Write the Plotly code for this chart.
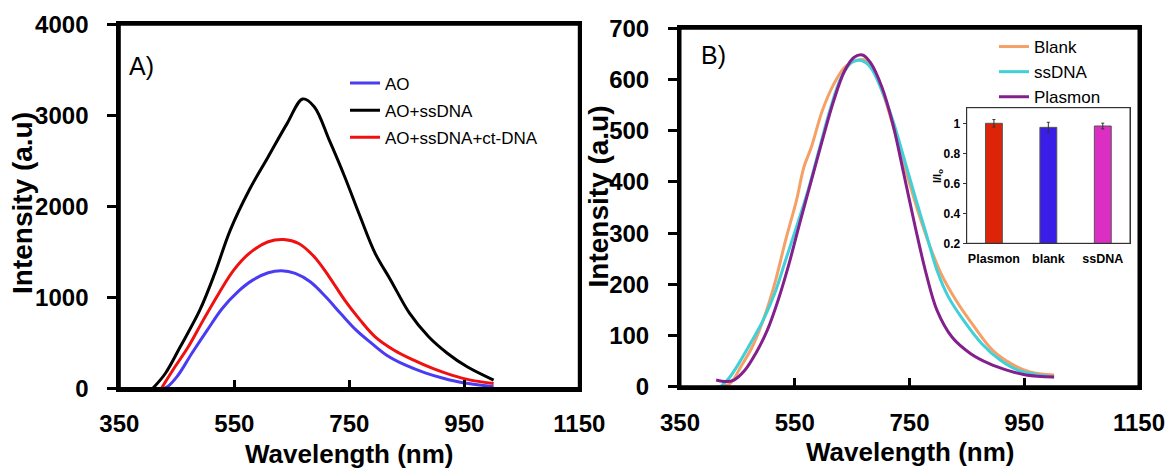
import plotly.graph_objects as go

W, H = 1168, 468
FONT = "Liberation Sans, Arial, sans-serif"

# ---------- Panel A data ----------
ao_x = [400, 430, 450, 476, 503, 529, 556, 582, 609, 632, 656, 682, 709, 735, 762, 789, 815, 848, 882, 915, 948, 1001]
ao_y = [0, 7, 128, 385, 641, 879, 1062, 1190, 1271, 1293, 1264, 1172, 1007, 824, 641, 495, 366, 256, 172, 110, 62, 18]

ss_x = [408, 430, 456, 490, 516, 543, 576, 609, 642, 669, 689, 715, 742, 769, 795, 822, 855, 888, 921, 955, 1001]
ss_y = [0, 165, 458, 860, 1264, 1740, 2180, 2546, 2912, 3180, 3095, 2730, 2326, 1886, 1484, 1190, 824, 568, 385, 238, 92]

ct_x = [423, 443, 470, 496, 523, 549, 576, 609, 636, 662, 689, 715, 742, 769, 795, 828, 862, 895, 928, 961, 1001]
ct_y = [0, 201, 458, 751, 1044, 1300, 1484, 1612, 1637, 1593, 1447, 1227, 971, 751, 568, 421, 311, 220, 147, 92, 55]

# ---------- Panel B data ----------
blank_x = [415, 437, 456, 476, 495, 515, 534, 553, 566, 579, 598, 618, 637, 656, 673, 689, 708, 727, 747, 766, 786, 805, 831, 863, 895, 927, 960, 1002]
blank_y = [0, 6, 39, 78, 130, 201, 286, 364, 429, 468, 539, 591, 624, 637, 638, 614, 559, 487, 409, 338, 273, 221, 169, 117, 71, 45, 29, 23]

ssdna_x = [421, 437, 456, 476, 495, 515, 534, 553, 573, 592, 611, 631, 650, 666, 682, 702, 721, 740, 760, 779, 798, 818, 844, 876, 908, 940, 1002]
ssdna_y = [0, 19, 52, 91, 130, 182, 247, 312, 383, 461, 539, 604, 634, 637, 624, 578, 520, 448, 370, 299, 227, 175, 130, 84, 52, 32, 19]

plas_x = [413, 431, 444, 463, 482, 502, 521, 540, 560, 579, 598, 618, 637, 653, 668, 682, 702, 721, 740, 760, 779, 798, 824, 856, 889, 921, 953, 1002]
plas_y = [13, 10, 13, 32, 65, 110, 169, 240, 325, 403, 481, 559, 617, 643, 648, 633, 585, 513, 416, 312, 221, 149, 97, 65, 45, 32, 23, 19]

# ---------- Inset data ----------
inset_cats = ["Plasmon", "blank", "ssDNA"]
inset_vals = [1.0, 0.973, 0.982]
inset_err = [0.025, 0.034, 0.019]
inset_colors = ["#dd2408", "#3a1ee8", "#dc2ec2"]

fig = go.Figure()

def line(x, y, name, color, xa, ya, legend):
    fig.add_trace(go.Scatter(x=x, y=y, name=name, mode="lines",
                             line=dict(color=color, width=3, shape="spline", smoothing=1.0),
                             xaxis=xa, yaxis=ya, legend=legend, legendgroup=name))

line(ao_x, ao_y, "AO", "#4a3cf2", "x", "y", "legend")
line(ss_x, ss_y, "AO+ssDNA", "#000000", "x", "y", "legend")
line(ct_x, ct_y, "AO+ssDNA+ct-DNA", "#f01010", "x", "y", "legend")

line(blank_x, blank_y, "Blank", "#f5a066", "x2", "y2", "legend2")
line(ssdna_x, ssdna_y, "ssDNA", "#40d0d8", "x2", "y2", "legend2")
line(plas_x, plas_y, "Plasmon", "#84208c", "x2", "y2", "legend2")

fig.add_trace(go.Bar(x=inset_cats, y=inset_vals, xaxis="x3", yaxis="y3",
                     marker=dict(color=inset_colors, line=dict(color="#555555", width=1)),
                     error_y=dict(type="data", array=inset_err, color="#333333", thickness=1, width=1.5),
                     showlegend=False, width=0.31))

def px2x(p):
    return p / W

def px2y(p):
    return 1 - p / H

tickfont = dict(family=FONT, size=24, color="black", weight="bold")
common_x = dict(range=[350, 1150], tick0=350, dtick=200, ticks="inside", ticklen=9, tickwidth=2.5,
                tickcolor="black", showline=True, linewidth=3, linecolor="black", mirror=True,
                showgrid=False, zeroline=False, tickfont=tickfont, ticklabelstandoff=12, automargin=False)
common_y = dict(ticks="outside", ticklen=9, tickwidth=2.5, tickcolor="black", showline=True,
                linewidth=3, linecolor="black", mirror=True, showgrid=False, zeroline=False,
                tickfont=tickfont, ticklabelstandoff=14, automargin=False)

fig.update_layout(
    template="none",
    width=W, height=H, margin=dict(l=0, r=0, t=0, b=0, autoexpand=False),
    paper_bgcolor="white", plot_bgcolor="white",
    font=dict(family=FONT, color="black"),
    xaxis=dict(domain=[px2x(119.3), px2x(579.3)], anchor="y", **common_x),
    yaxis=dict(domain=[px2y(388.5), px2y(24.3)], anchor="x", range=[0, 4000], dtick=1000, **common_y),
    xaxis2=dict(domain=[px2x(680), px2x(1139)], anchor="y2", **common_x),
    yaxis2=dict(domain=[px2y(386.7), px2y(28.3)], anchor="x2", range=[0, 700], dtick=100, **common_y),
    xaxis3=dict(domain=[px2x(966.7), px2x(1130)], anchor="y3", showline=True, linewidth=1,
                linecolor="#333333", mirror=True, ticks="", showgrid=False, automargin=False,
                tickfont=dict(family=FONT, size=12.5, color="black", weight="bold"), ticklabelstandoff=4),
    yaxis3=dict(domain=[px2y(243.3), px2y(107.7)], anchor="x3", range=[0.2, 1.104], tick0=0.2, dtick=0.2,
                showline=True, linewidth=1, linecolor="#333333", mirror=True, ticks="outside",
                ticklen=3, tickcolor="#333333", showgrid=False, zeroline=False, automargin=False,
                tickfont=dict(family=FONT, size=12, color="black", weight="bold")),
    bargap=0.69,
    legend=dict(x=px2x(345), y=px2y(65.5), xanchor="left", yanchor="top", bgcolor="rgba(0,0,0,0)",
                font=dict(family=FONT, size=17, color="black"), itemwidth=30, tracegroupgap=2),
    legend2=dict(x=px2x(994), y=px2y(29), xanchor="left", yanchor="top", bgcolor="rgba(0,0,0,0)",
                 font=dict(family=FONT, size=17, color="black"), itemwidth=30, tracegroupgap=0),
    showlegend=True,
)

# frame boxes drawn on each subplot's domain (same place as the mirrored axis lines)
shapes = []
for xr, yr, w, c in [("x domain", "y domain", 3, "black"), ("x2 domain", "y2 domain", 3, "black"),
                     ("x3 domain", "y3 domain", 1, "#333333")]:
    shapes.append(dict(type="rect", xref=xr, yref=yr, x0=0, x1=1, y0=0, y1=1,
                       line=dict(color=c, width=w), fillcolor="rgba(0,0,0,0)", layer="above"))
fig.update_layout(shapes=shapes)

ann = []
def add_text(text, x, y, size, bold=True, angle=0, xanchor="center"):
    ann.append(dict(text=text, x=px2x(x), y=px2y(y), xref="paper", yref="paper", showarrow=False,
                    xanchor=xanchor, yanchor="middle", textangle=angle,
                    font=dict(family=FONT, size=size, color="black", weight="bold" if bold else "normal")))

add_text("Wavelength (nm)", 349.3, 454, 26)
add_text("Wavelength (nm)", 909.5, 452, 26)
add_text("Intensity (a.u)", 22.5, 203.5, 28, angle=-90)
add_text("Intensity (a.u)", 597.5, 197, 28, angle=-90)
add_text("A)", 127, 66, 25, bold=False, xanchor="left")
add_text("B)", 699, 55, 25, bold=False, xanchor="left")
add_text("I/I<sub>o</sub>", 938, 176, 11, angle=-90)
fig.update_layout(annotations=ann)

fig.write_html("out.html")
